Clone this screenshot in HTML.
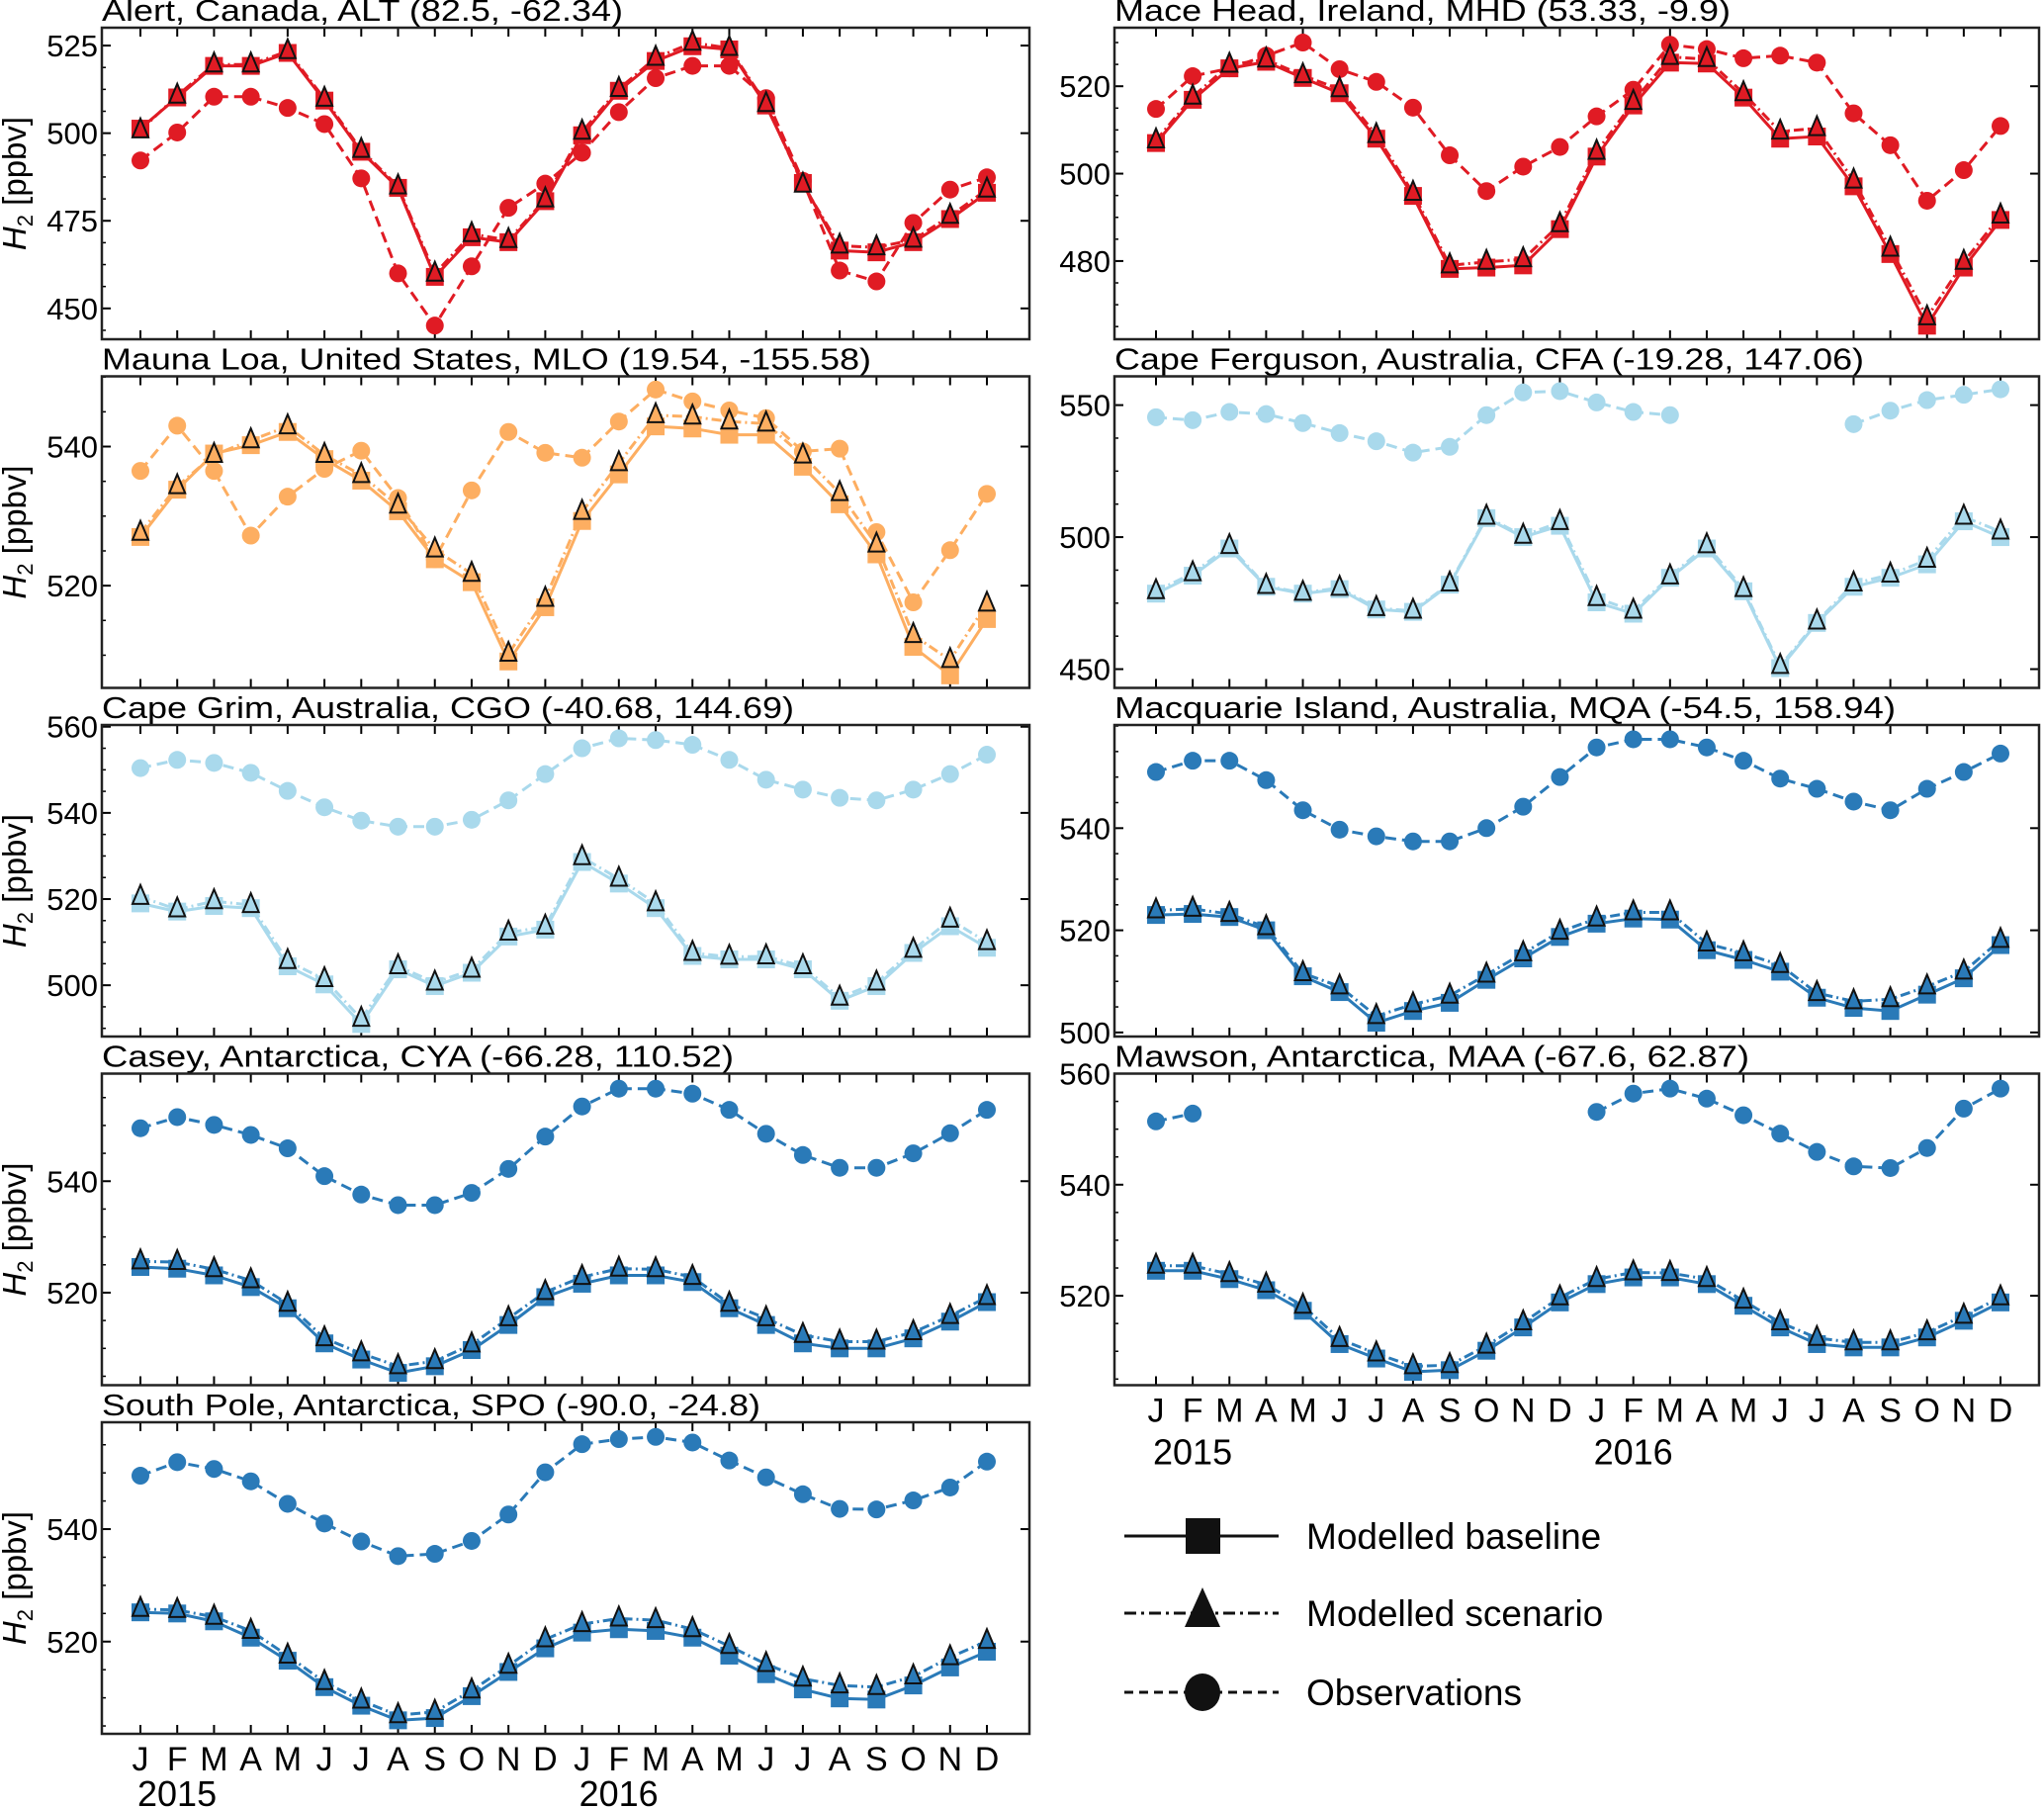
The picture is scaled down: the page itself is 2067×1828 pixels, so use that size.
<!DOCTYPE html>
<html><head><meta charset="utf-8"><style>
html,body{margin:0;padding:0;background:#fff}
svg{display:block}
text{font-family:"Liberation Sans Narrow","Liberation Sans",sans-serif;fill:#000}
</style></head><body>
<svg id="fig" width="2067" height="1828" viewBox="0 0 2067 1828" xmlns="http://www.w3.org/2000/svg"></svg>
<script>
const months = ["J","F","M","A","M","J","J","A","S","O","N","D","J","F","M","A","M","J","J","A","S","O","N","D"];
const years = ["2015","2016"];

const altObs = [492.2,500.2,510.4,510.4,507.2,502.6,487.1,460,445.1,462,478.7,485.6,494.4,506,515.7,519.2,519.2,510,486.4,460.8,457.7,474.4,483.9,487.4];
const altBase = [501.3,510.2,519.2,519.2,522.9,509.3,494.7,484.4,459,470.3,468.9,480.6,499.4,512.1,520.6,524.8,523.9,507.9,485.8,466.5,466,468.9,475.5,483];
const altScen = [500.8,510.7,519.6,519.6,523.4,509.8,495.2,484.8,459.9,471.2,469.5,481.1,500.4,512.6,521.5,525.8,524.3,508.3,485.3,467.9,467.4,469.6,476.4,483.9];

const mhdObs = [514.8,522.3,524.1,527,530,523.9,521,515.1,504.2,496,501.6,506.1,513.1,519.2,529.5,528.5,526.4,527,525.4,513.8,506.5,493.8,500.8,510.9];
const mhdBase = [507,516.9,524.1,525.6,521.9,518.4,508,494.9,478.2,478.5,479,487.3,503.9,515.6,525.4,525.2,517.4,508,508.5,497.1,481.6,465.2,478.5,489.4];
const mhdScen = [507.6,517.6,524.9,526.1,522.5,519.3,508.8,495.6,479,479.8,480.4,488.4,505,516.4,526.7,526.2,518.4,509.6,510.4,498.4,482.8,467.1,479.8,490.4];

const mloObs = [536.5,543,536.5,527.2,532.8,536.8,539.4,532.6,523.8,533.7,542.1,539.1,538.4,543.6,548.2,546.5,545.2,544.1,539.3,539.7,527.7,517.6,525.1,533.2];
const mloBase = [527,533.8,539,540.2,542.1,538.2,535.1,530.7,523.8,520.5,509.1,516.9,529.3,536,542.9,542.6,541.7,541.7,537.1,531.7,524.5,511.2,507.1,515.2];
const mloScen = [527.6,534.3,538.8,540.9,542.9,538.8,535.9,531.5,525.2,521.7,510.2,518.1,530.6,537.6,544.5,544.3,543.6,543.3,538.7,533.3,525.9,512.9,509.3,517.4];

const cfaObs = [545.4,544.3,547.4,546.6,543.2,539.4,536.3,532,534.2,546.2,554.8,555.3,551,547.4,546.2,null,null,null,null,542.8,547.9,551.9,553.9,556];
const cfaBase = [478.6,485.4,495.7,481.2,478.6,480.3,472.6,471.7,482,507.2,500,504.3,475.3,471,484.6,495.7,479.5,450.4,467.5,481.2,484.6,489.7,506,500];
const cfaScen = [479.5,486.3,496.6,481.5,478.9,480.8,473.1,472.1,482.4,507.7,500.5,505.7,476.9,472.1,485.1,496.9,480.3,451.2,468,482.4,485.8,491.4,507.7,502.1];

const cgoObs = [550.4,552.3,551.6,549.3,545.1,541.3,538.2,536.8,536.8,538.4,542.9,549,555,557.3,556.9,555.8,552.3,547.7,545.4,543.5,542.9,545.4,549,553.5];
const cgoBase = [519,517.1,518.4,517.9,504.4,500.2,491,503.7,499.8,502.9,511.3,512.9,528.6,523.6,517.9,506.8,506,506,503.7,496.4,499.8,507.5,513.7,508.7];
const cgoScen = [520.5,517.6,519.5,518.6,505.6,501.4,492.2,504.4,500.6,503.6,512.2,513.6,529.7,524.7,519,507.5,506.6,506.7,504.4,497.1,500.6,508.2,515.2,510];

const mqaObs = [551,553.2,553.2,549.4,543.5,539.7,538.4,537.4,537.4,540,544.2,550,555.8,557.4,557.4,555.8,553.2,549.7,547.7,545.2,543.5,547.7,551,554.6];
const mqaBase = [523,523.2,522.6,520,511,507.9,501.9,504.2,505.8,510.3,514.5,518.7,521.3,522.3,522.1,516.1,514.2,511.9,506.8,504.8,504.2,507.4,510.6,517.1];
const mqaScen = [523.9,524.2,523.2,520.6,511.6,509,503.2,505.5,507.2,511.3,515.5,519.7,522.3,523.5,523.5,517.4,515.5,513.2,507.7,506.1,506.5,509,511.9,518.1];

const cyaObs = [549.5,551.5,550.1,548.3,545.9,540.9,537.6,535.7,535.7,537.9,542.2,548,553.4,556.6,556.6,555.7,552.8,548.5,544.7,542.4,542.4,545,548.6,552.8];
const cyaBase = [524.6,524.3,523.1,521,517.2,510.9,508,505.6,506.8,509.7,514.2,519.2,521.6,523.1,523.1,521.9,517.2,514.2,510.9,510,510,511.8,514.8,518.3];
const cyaScen = [525.6,525.5,524.2,522.2,518,511.8,509.1,506.8,507.7,510.7,515.4,520.1,522.8,524.3,524.2,522.8,518,515.4,512.4,511.2,511.2,512.9,515.8,519.2];

const maaObs = [551.4,552.8,null,null,null,null,null,null,null,null,null,null,553.1,556.4,557.3,555.5,552.5,549.2,545.9,543.3,543,546.6,553.7,557.3];
const maaBase = [524.5,524.5,523,521,517.3,511.3,508.7,506.3,506.6,510.1,514.3,518.8,522.1,523.3,523.3,522.1,518.2,514.3,511.3,510.7,510.7,512.5,515.5,518.8];
const maaScen = [525.4,525.4,523.9,522,518.2,512.2,509.6,507.3,507.5,511,515.2,519.7,523,524.2,524.1,523,519.1,515.2,512.4,511.6,511.6,513.4,516.4,519.7];

const spoObs = [549.5,551.9,550.7,548.5,544.5,541,537.8,535.2,535.6,537.9,542.6,550.1,555.1,556,556.4,555.4,552.2,549.2,546.2,543.6,543.5,545.1,547.4,552];
const spoBase = [525.2,525,523.6,520.7,516.6,511.9,508.6,506,506.4,510.3,514.6,518.8,521.6,522.2,521.9,520.7,517.5,514.2,511.5,509.9,509.7,512.2,515.4,518.2];
const spoScen = [525.8,525.6,524.4,521.9,517.5,512.8,509.5,506.9,507.5,511.3,515.7,520.4,523.1,524.1,523.8,522.2,519.2,516,513.4,512.2,511.9,513.8,517.2,520.1];

const panels = [
 {id:"alt",title:"Alert, Canada, ALT (82.5, -62.34)",tw:527,col:0,row:0,ylim:[441.2,530.1],ticks:[450,475,500,525],color:"#e01b24",obs:altObs,base:altBase,scen:altScen},
 {id:"mhd",title:"Mace Head, Ireland, MHD (53.33, -9.9)",tw:623,col:1,row:0,ylim:[462.1,533.4],ticks:[480,500,520],color:"#e01b24",obs:mhdObs,base:mhdBase,scen:mhdScen},
 {id:"mlo",title:"Mauna Loa, United States, MLO (19.54, -155.58)",tw:778,col:0,row:1,ylim:[505.3,550.1],ticks:[520,540],color:"#fdae61",obs:mloObs,base:mloBase,scen:mloScen},
 {id:"cfa",title:"Cape Ferguson, Australia, CFA (-19.28, 147.06)",tw:758,col:1,row:1,ylim:[442.9,560.9],ticks:[450,500,550],color:"#a9d9ec",obs:cfaObs,base:cfaBase,scen:cfaScen},
 {id:"cgo",title:"Cape Grim, Australia, CGO (-40.68, 144.69)",tw:700,col:0,row:2,ylim:[488.1,560.4],ticks:[500,520,540,560],color:"#a9d9ec",obs:cgoObs,base:cgoBase,scen:cgoScen},
 {id:"mqa",title:"Macquarie Island, Australia, MQA (-54.5, 158.94)",tw:790,col:1,row:2,ylim:[499.2,560.2],ticks:[500,520,540],color:"#2a7ab8",obs:mqaObs,base:mqaBase,scen:mqaScen},
 {id:"cya",title:"Casey, Antarctica, CYA (-66.28, 110.52)",tw:639,col:0,row:3,ylim:[503.4,559.3],ticks:[520,540],color:"#2a7ab8",obs:cyaObs,base:cyaBase,scen:cyaScen},
 {id:"maa",title:"Mawson, Antarctica, MAA (-67.6, 62.87)",tw:642,col:1,row:3,ylim:[503.9,560],ticks:[520,540,560],color:"#2a7ab8",obs:maaObs,base:maaBase,scen:maaScen,xlabels:true,yearDy:80},
 {id:"spo",title:"South Pole, Antarctica, SPO (-90.0, -24.8)",tw:666,col:0,row:4,ylim:[503.6,559],ticks:[520,540],color:"#2a7ab8",obs:spoObs,base:spoBase,scen:spoScen,xlabels:true,yearDy:73}
];

const NS="http://www.w3.org/2000/svg";
const svg=document.getElementById('fig');
function mk(tag,attrs,parent){const e=document.createElementNS(NS,tag);for(const k in attrs)e.setAttribute(k,attrs[k]);(parent||svg).appendChild(e);return e;}

const colX=[[103,1041],[1127,2062]];
const firstOff=[39,42], lastOff=[43,39];

panels.forEach(p=>{
  const g=mk('g',{});
  
  
  const L=colX[p.col][0], R=colX[p.col][1];
  const T=28+p.row*352.5, B=T+315;
  const x0=L+firstOff[p.col], x1=R-lastOff[p.col];
  const xs=i=>x0+(x1-x0)*i/(months.length-1);
  const ys=v=>B-(v-p.ylim[0])/(p.ylim[1]-p.ylim[0])*(B-T);
  const t=mk('text',{x:L,y:T-7,'font-size':31,textLength:p.tw,lengthAdjust:'spacingAndGlyphs'},g);
  t.textContent=p.title;
  
  
  for(let i=0;i<months.length;i++){
    const x=xs(i);
    mk('line',{x1:x,x2:x,y1:B,y2:B-9,stroke:'#000','stroke-width':2},g);
    mk('line',{x1:x,x2:x,y1:T,y2:T+9,stroke:'#000','stroke-width':2},g);
  }
  const step=p.ticks.length>1?p.ticks[1]-p.ticks[0]:20;
  for(let v=p.ticks[0]-step;v<=p.ylim[1];v+=step/4){
    if(v<p.ylim[0])continue;
    const y=ys(v);
    mk('line',{x1:L,x2:L+4,y1:y,y2:y,stroke:'#000','stroke-width':1.5},g);
  }
  p.ticks.forEach(v=>{
    const y=ys(v);
    mk('line',{x1:L,x2:L+9,y1:y,y2:y,stroke:'#000','stroke-width':2},g);
    mk('line',{x1:R,x2:R-9,y1:y,y2:y,stroke:'#000','stroke-width':2},g);
    const tl=mk('text',{x:L-4,y:y+11,'font-size':31,'text-anchor':'end'},g);
    tl.textContent=v;
    
    
  });
  function drawLine(arr,dash,name){
    let d='',pen=false;
    arr.forEach((v,i)=>{ if(v==null){pen=false;return;} d+=(pen?'L':'M')+xs(i).toFixed(1)+','+ys(v).toFixed(1); pen=true;});
    const l=mk('path',{d:d,fill:'none',stroke:p.color,'stroke-width':3,'stroke-dasharray':dash},g);
    
    
  }
  drawLine(p.obs,'11,6','observations');
  drawLine(p.base,'none','baseline');
  drawLine(p.scen,'10,4,2,4','scenario');
  p.base.forEach((v,i)=>{ if(v==null)return;
    const s=mk('rect',{x:xs(i)-9,y:ys(v)-9,width:18,height:18,fill:p.color},g);
    
    
  });
  p.obs.forEach((v,i)=>{ if(v==null)return;
    const c=mk('circle',{cx:xs(i),cy:ys(v),r:9,fill:p.color},g);
    
    
  });
  p.scen.forEach((v,i)=>{ if(v==null)return;
    const x=xs(i),y=ys(v);
    const tr=mk('polygon',{points:`${x},${y-12} ${x-8},${y+7} ${x+8},${y+7}`,fill:p.color,stroke:'#111','stroke-width':2},g);
    
    
  });
  const f=mk('rect',{x:L,y:T,width:R-L,height:B-T,fill:'none',stroke:'#222','stroke-width':2.5},g);
  
  
  if(p.col===0){
    const cy=(T+B)/2;
    const yl=mk('text',{x:0,y:0,'font-size':33,'text-anchor':'middle',transform:`translate(26,${cy}) rotate(-90)`,style:'font-family:"Liberation Sans",sans-serif'},g);
    yl.innerHTML='<tspan font-style="italic">H</tspan><tspan font-size="22" dy="7">2</tspan><tspan dy="-7"> [ppbv]</tspan>';
    
    
  }
  if(p.xlabels){
    months.forEach((m,i)=>{
      const ml=mk('text',{x:xs(i),y:B+37,'font-size':34,'text-anchor':'middle'},g);
      ml.textContent=m;
      
      
    });
    years.forEach((yr,k)=>{
      const yt=mk('text',{x:xs(k*12)-3,y:B+p.yearDy,'font-size':36},g);
      yt.textContent=yr;
      
      
    });
  }
});

const legendLabels=["Modelled baseline","Modelled scenario","Observations"];
const legendDash=["none","12,5,3,5","9,6"];
const legendY=[1553,1631,1711];
const lg=mk('g',{});


legendLabels.forEach((lab,i)=>{
  const y=legendY[i];
  const e=mk('g',{},lg);
  
  
  mk('line',{x1:1137,x2:1293,y1:y,y2:y,stroke:'#111','stroke-width':3,'stroke-dasharray':legendDash[i]},e);
  if(i===0) mk('rect',{x:1199,y:y-18,width:35,height:36,fill:'#111'},e);
  if(i===1) mk('polygon',{points:`1216,${y-26} 1198,${y+14} 1234,${y+14}`,fill:'#111'},e);
  if(i===2) mk('ellipse',{cx:1216,cy:y,rx:18,ry:19,fill:'#111'},e);
  const t=mk('text',{x:1321,y:y+13,'font-size':37,style:'font-family:"Liberation Sans",sans-serif'},e);
  t.textContent=lab;
});
</script>
</body></html>
